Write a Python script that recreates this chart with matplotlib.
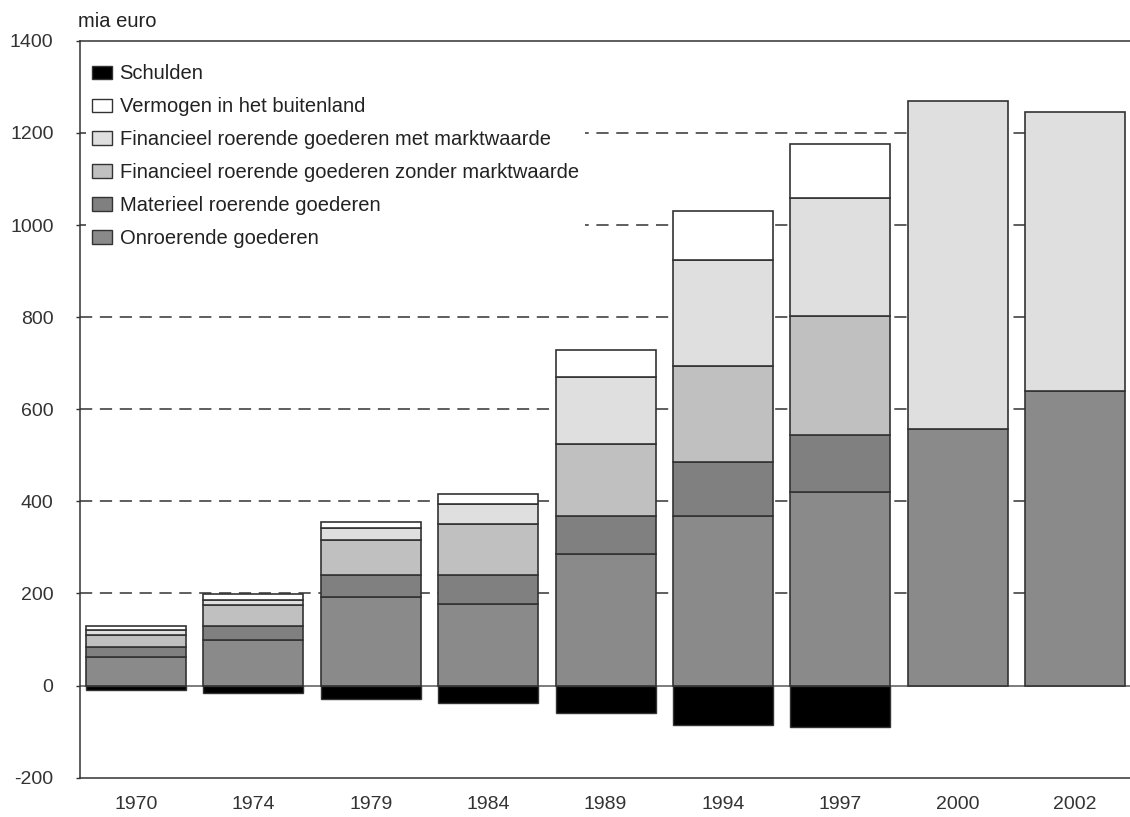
import numpy as np
import matplotlib.pyplot as plt
from matplotlib.patches import Patch

plt.rcParams['font.family'] = ['Liberation Sans', 'DejaVu Sans']
plt.rcParams['axes.unicode_minus'] = False

# ---- data (mia euro) ----
years = ["1970", "1974", "1979", "1984", "1989", "1994", "1997", "2000", "2002"]
onroerend = [62, 100, 192, 177, 285, 368, 420, 557, 640]
materieel = [21, 29, 49, 64, 83, 117, 123, 0, 0]
fin_zonder = [26, 45, 76, 110, 157, 209, 260, 0, 0]
fin_met = [12, 12, 25, 43, 145, 230, 256, 713, 606]
buitenland = [9, 13, 14, 23, 58, 106, 117, 0, 0]
schulden = [-9, -16, -30, -38, -59, -85, -89, 0, 0]

labels = ["Schulden", "Vermogen in het buitenland",
          "Financieel roerende goederen met marktwaarde",
          "Financieel roerende goederen zonder marktwaarde",
          "Materieel roerende goederen", "Onroerende goederen"]
colors = ["#000000", "#ffffff", "#dfdfdf", "#c0c0c0", "#808080", "#8a8a8a"]

fig = plt.figure(figsize=(11.3, 8.17), dpi=100)
ax = fig.add_axes([0.0708, 0.0481, 0.9292, 0.902])

x = np.arange(len(years))
w = 0.852
edge = "#333333"

# stack positive layers bottom -> top
stack = [(onroerend, colors[5]), (materieel, colors[4]), (fin_zonder, colors[3]),
         (fin_met, colors[2]), (buitenland, colors[1])]
bottom = np.zeros(len(years))
for vals, col in stack:
    vals = np.array(vals, dtype=float)
    m = vals > 0
    ax.bar(x[m], vals[m], w, bottom=bottom[m], color=col, edgecolor=edge,
           linewidth=1.2, zorder=3)
    bottom += vals

s = np.array(schulden, dtype=float)
m = s < 0
ax.bar(x[m], s[m], w, color=colors[0], edgecolor=edge, linewidth=1.0, zorder=3)

# grid and zero line
for yv in range(200, 1201, 200):
    ax.axhline(yv, color="#333333", lw=1.1, ls=(0, (8, 5)), zorder=1)
ax.axhline(0, color="#666666", lw=1.2, zorder=2)

ax.set_xlim(-0.477, 8.468)
ax.set_ylim(-200, 1400)
ax.set_yticks(range(-200, 1401, 200))
ax.set_xticks(x)
ax.set_xticklabels(years)
ax.tick_params(axis="y", length=3, width=1, labelsize=14, color="#333333", pad=16)
ax.tick_params(axis="x", length=0, labelsize=14, pad=13)
for t in ax.get_yticklabels():
    t.set_color("#333333")
for t in ax.get_xticklabels():
    t.set_color("#333333")
for sp in ax.spines.values():
    sp.set_color("#333333")
    sp.set_linewidth(1.1)
ax.spines["right"].set_visible(False)

handles = [Patch(facecolor=c, edgecolor=edge, linewidth=1.0) for c in colors]
leg = ax.legend(handles, labels, loc="upper left", bbox_to_anchor=(0.0057, 0.976),
                borderaxespad=0, frameon=True, fontsize=14.5,
                handlelength=0.97, handleheight=0.65,
                handletextpad=0.4, labelspacing=0.69, borderpad=0.3)
leg.get_frame().set_facecolor("white")
leg.get_frame().set_edgecolor("none")
leg.get_frame().set_alpha(1)
leg.set_zorder(5)
for t in leg.get_texts():
    t.set_color("#222222")

fig.text(0.069, 0.974, "mia euro", fontsize=14.5, color="#222222", va="center", ha="left")

fig.savefig("out.png", dpi=100)
